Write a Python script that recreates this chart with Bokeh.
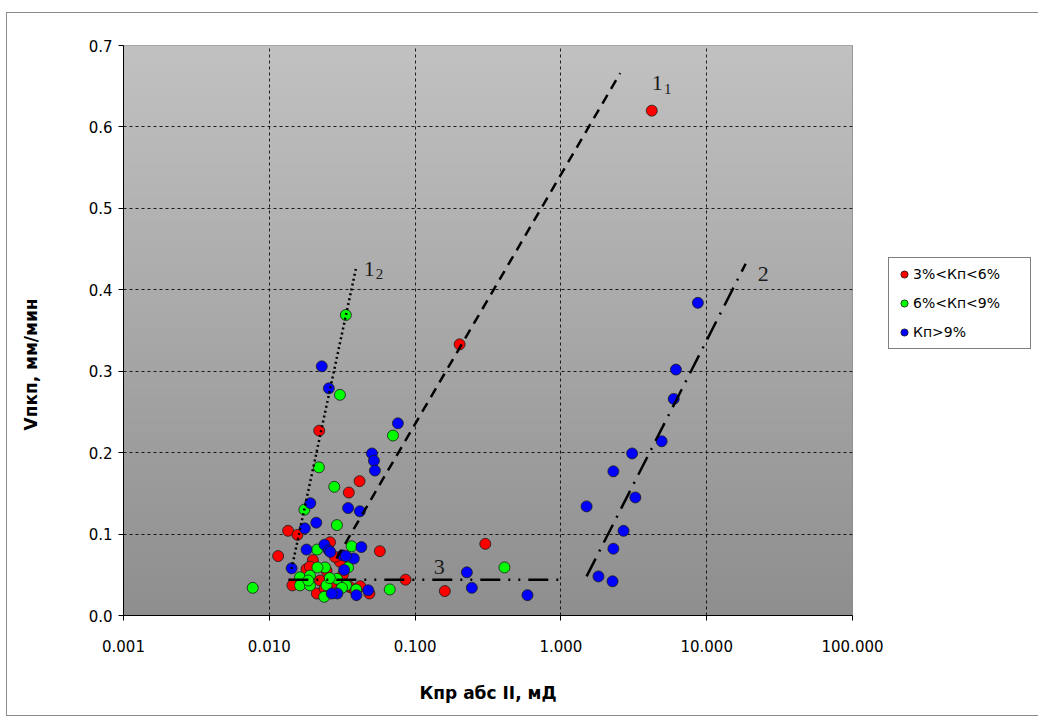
from bokeh.plotting import figure
from bokeh.models import (FixedTicker, PrintfTickFormatter, BoxAnnotation, Legend,
                          LegendItem, Title, LinearAxis, CustomJSTickFormatter)
from bokeh.embed import file_html
from bokeh.resources import INLINE
from bokeh.core.properties import value

# ---------------- data ----------------
red_x = [4.2, 0.202, 0.0220, 0.0416, 0.0351, 0.303, 0.0573, 0.086, 0.160, 0.01345,
         0.0156, 0.0115, 0.0144, 0.0180, 0.0212, 0.0261, 0.0305, 0.0357, 0.0486, 0.0223,
         0.0282, 0.0247, 0.0386, 0.0199, 0.0190, 0.0270, 0.0320, 0.0240, 0.0420]
red_y = [0.620, 0.333, 0.227, 0.165, 0.151, 0.088, 0.079, 0.044, 0.030, 0.104,
         0.099, 0.073, 0.037, 0.057, 0.027, 0.090, 0.066, 0.035, 0.027, 0.043,
         0.072, 0.055, 0.031, 0.068, 0.060, 0.040, 0.050, 0.033, 0.036]

green_x = [0.0335, 0.0305, 0.0219, 0.0279, 0.0705, 0.0174, 0.0291, 0.0077, 0.067, 0.41,
           0.0213, 0.0367, 0.01625, 0.01625, 0.019, 0.019, 0.0241, 0.0247, 0.0238, 0.0291,
           0.0337, 0.0347, 0.0214, 0.0260, 0.0315, 0.0395, 0.0185]
green_y = [0.369, 0.271, 0.182, 0.158, 0.221, 0.130, 0.111, 0.034, 0.032, 0.059,
           0.081, 0.085, 0.047, 0.037, 0.049, 0.037, 0.059, 0.037, 0.023, 0.045,
           0.037, 0.059, 0.059, 0.046, 0.034, 0.032, 0.043]

blue_x = [8.7, 6.15, 5.94, 4.91, 3.08, 2.29, 1.50, 3.24, 2.69, 2.29,
          1.81, 2.26, 0.0229, 0.0256, 0.0762, 0.0506, 0.0522, 0.0530, 0.0347, 0.0418,
          0.0191, 0.0210, 0.0175, 0.0180, 0.01423, 0.0239, 0.0256, 0.0428, 0.0318, 0.0380,
          0.0326, 0.0477, 0.0396, 0.0293, 0.0268, 0.2265, 0.245, 0.59, 0.0262, 0.0335]
blue_y = [0.384, 0.302, 0.266, 0.214, 0.199, 0.177, 0.134, 0.145, 0.104, 0.082,
          0.048, 0.042, 0.306, 0.279, 0.236, 0.199, 0.190, 0.178, 0.132, 0.128,
          0.138, 0.114, 0.107, 0.081, 0.058, 0.087, 0.080, 0.084, 0.074, 0.070,
          0.056, 0.031, 0.025, 0.027, 0.027, 0.053, 0.034, 0.025, 0.078, 0.073]

series_labels = ["3%<Кп<6%", "6%<Кп<9%", "Кп>9%"]

# trend lines
line_1_1_x = [0.0289, 2.55]
line_1_1_y = [0.070, 0.666]
line_1_2_x = [0.0142, 0.0396]
line_1_2_y = [0.057, 0.429]
line_2_x = [1.50, 18.5]
line_2_y = [0.048, 0.432]
line_3_x = [0.0135, 1.0]
line_3_y = [0.044, 0.044]

x_ticks = [0.001, 0.01, 0.1, 1, 10, 100]
y_ticks = [0.0, 0.1, 0.2, 0.3, 0.4, 0.5, 0.6, 0.7]

x_title = "Кпр абс II, мД"
y_title = "Vпкп, мм/мин"

FONT = "DejaVu Sans"

# ---------------- figure ----------------
p = figure(x_axis_type="log", x_range=(0.001, 100), y_range=(0, 0.7),
           frame_width=729, frame_height=570,
           min_border_left=116, min_border_right=177,
           min_border_top=32, min_border_bottom=100,
           output_backend="svg", toolbar_location=None,
           background_fill_color="#a8a8a8", border_fill_color="white")
p.margin = (12, 0, 0, 6)
p.styles = {"border": "1px solid #8a8a8a"}

# gradient background of plot area
n = 140
top_c, bot_c = 193, 142
for i in range(n):
    t = (i + 0.5) / n
    g = int(round(bot_c + (top_c - bot_c) * t))
    col = "#%02x%02x%02x" % (g, g, g)
    p.add_layout(BoxAnnotation(bottom=0.7 * i / n, top=0.7 * (i + 1) / n + 0.001,
                               fill_color=col, fill_alpha=1.0, line_color=None,
                               level="image"))

p.outline_line_color = "#8a8a8a"
p.outline_line_width = 1

for grid in (p.xgrid, p.ygrid):
    grid.grid_line_color = "black"
    grid.grid_line_dash = "3 3"
    grid.grid_line_width = 1
    grid.grid_line_alpha = 0.85

p.xaxis.ticker = FixedTicker(ticks=x_ticks, minor_ticks=[])
p.xaxis.formatter = PrintfTickFormatter(format="%.3f")
p.yaxis.ticker = FixedTicker(ticks=y_ticks, minor_ticks=[])
p.yaxis.formatter = PrintfTickFormatter(format="%.1f")

for ax in (p.xaxis[0], p.yaxis[0]):
    ax.axis_line_color = "black"
    ax.axis_line_width = 1
    ax.major_tick_line_color = "black"
    ax.major_tick_out = 5
    ax.major_tick_in = 0
    ax.minor_tick_out = 0
    ax.minor_tick_in = 0
    ax.major_label_text_font = FONT
    ax.major_label_text_font_size = "15px"
    ax.major_label_text_color = "black"

p.xaxis.major_label_standoff = 19
p.yaxis.major_label_standoff = 6
p.xaxis.axis_label = x_title
p.xaxis.axis_label_text_font = FONT
p.xaxis.axis_label_text_font_size = "17px"
p.xaxis.axis_label_text_font_style = "bold"
p.xaxis.axis_label_text_color = "black"
p.xaxis.axis_label_standoff = 28

# blank spacer between the y tick labels and the y title (invisible tick, empty label)
spacer = LinearAxis(ticker=FixedTicker(ticks=[0.35], minor_ticks=[]),
                    formatter=CustomJSTickFormatter(code="return ''"),
                    major_tick_out=30, major_tick_in=0, minor_tick_out=0, minor_tick_in=0,
                    major_label_standoff=0, axis_line_color=None,
                    major_tick_line_color=None, minor_tick_line_color=None)
p.add_layout(spacer, "left")

# y title as a side title (offset along the axis as in the reference)
ytitle = Title(text=y_title, align="left", vertical_align="top", offset=185,
               standoff=26, text_font=FONT, text_font_size="17px",
               text_font_style="bold", text_color="black")
p.add_layout(ytitle, "left")

# ---------------- points ----------------
common = dict(size=11, line_color="#1a1a1a", line_width=0.8)
r_red = p.scatter(red_x, red_y, fill_color="#ff0000", **common)
r_green = p.scatter(green_x, green_y, fill_color="#00ff00", **common)
r_blue = p.scatter(blue_x, blue_y, fill_color="#0000ff", **common)

# ---------------- trend lines ----------------
p.line(line_1_1_x, line_1_1_y, line_color="black", line_width=2.5, line_dash="10 7")
p.line(line_1_2_x, line_1_2_y, line_color="black", line_width=2.5, line_dash="2 3")
p.line(line_2_x, line_2_y, line_color="black", line_width=2.5, line_dash="20 8 2 8")
p.line(line_3_x, line_3_y, line_color="black", line_width=2.5, line_dash="20 8 2 8 2 8")

# line labels (main digit + subscript)
lab_main_x = [4.2, 0.0445, 22.4, 0.134]
lab_main_y = [0.6536, 0.425, 0.420, 0.060]
lab_main_t = ["1", "1", "2", "3"]
lab_sub_x = [5.09, 0.0537]
lab_sub_y = [0.647, 0.419]
lab_sub_t = ["1", "2"]
p.text(lab_main_x, lab_main_y, text=lab_main_t, text_font=value("Liberation Serif"),
       text_font_size="22px", text_color="#1a1a1a", text_baseline="alphabetic",
       text_align="left")
p.text(lab_sub_x, lab_sub_y, text=lab_sub_t, text_font=value("Liberation Serif"),
       text_font_size="15px", text_color="#1a1a1a", text_baseline="alphabetic",
       text_align="left")

# ---------------- legend ----------------
legend = Legend(items=[LegendItem(label=series_labels[0], renderers=[r_red]),
                       LegendItem(label=series_labels[1], renderers=[r_green]),
                       LegendItem(label=series_labels[2], renderers=[r_blue])],
                location=(36, 266))
legend.border_line_color = "black"
legend.border_line_width = 1
legend.background_fill_color = "white"
legend.background_fill_alpha = 1.0
legend.label_text_font = FONT
legend.label_text_font_size = "14px"
legend.label_text_color = "black"
legend.glyph_width = 18
legend.glyph_height = 18
legend.label_standoff = 0
legend.label_width = 111
legend.spacing = 9
legend.padding = 6
legend.margin = 0
legend.label_height = 20
p.add_layout(legend, "right")

open("out.html", "w").write(file_html(p, INLINE))
